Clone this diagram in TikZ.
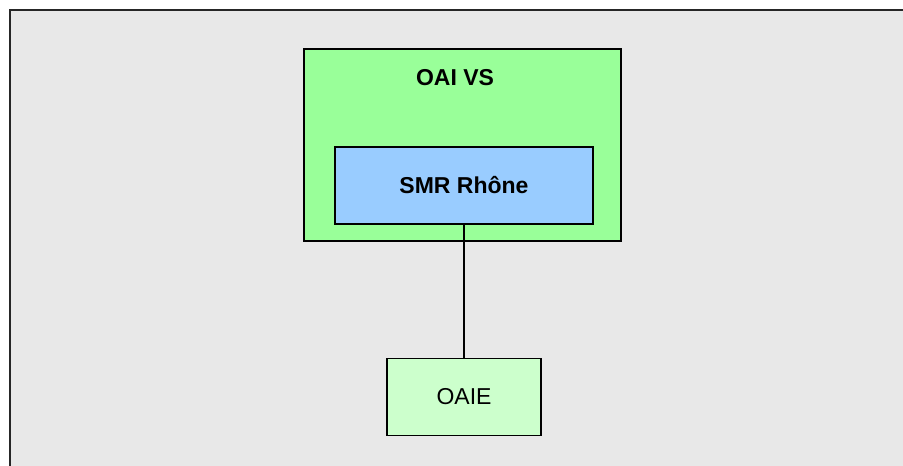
\documentclass[tikz,border=0pt]{standalone}
\usepackage{fontspec}
\setmainfont{Liberation Sans}
\definecolor{bggray}{HTML}{E8E8E8}
\definecolor{vsgreen}{HTML}{99FF99}
\definecolor{smrblue}{HTML}{99CCFF}
\definecolor{oaiegreen}{HTML}{CCFFCC}
\begin{document}
\begin{tikzpicture}[x=1pt,y=-1pt,
  box/.style={draw=black,line width=1.5pt,inner sep=0pt},
  lbl/.style={font=\fontsize{23}{27}\selectfont}]
\useasboundingbox (0,0) rectangle (903,466);
\fill[bggray] (10,10) rectangle (910,470);
\draw[line width=1.5pt,draw=black!85] (10,470) -- (10,10) -- (910,10);
\node[box,fill=vsgreen,minimum width=317pt,minimum height=192pt] (vs) at (462.5,145) {};
\node[lbl,font=\fontsize{23}{27}\selectfont\bfseries] (vslbl) at (455,78) {OAI VS};
\node[box,fill=smrblue,minimum width=258pt,minimum height=77pt,font=\fontsize{23}{27}\selectfont\bfseries] (smr) at (464,185.5) {SMR Rhône};
\node[box,fill=oaiegreen,minimum width=154pt,minimum height=77pt,font=\fontsize{23}{27}\selectfont] (oaie) at (464,397) {OAIE};
\draw[line width=1.5pt] (smr.south) -- (oaie.north);
\end{tikzpicture}
\end{document}
